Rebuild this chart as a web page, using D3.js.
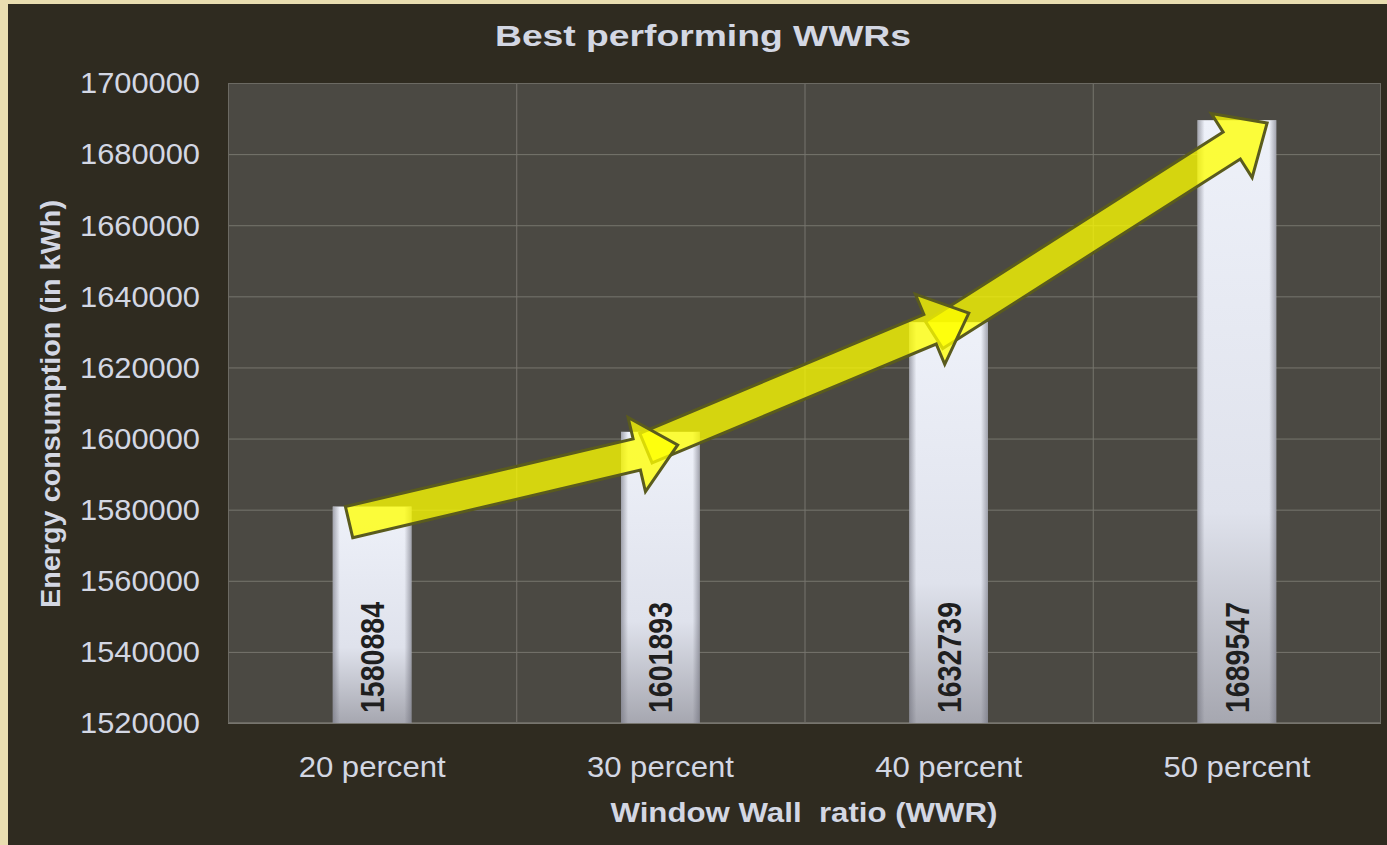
<!DOCTYPE html>
<html>
<head>
<meta charset="utf-8">
<script src="https://cdn.jsdelivr.net/npm/d3@7"></script>
<style>
  body { margin: 0; background: #e9ddb0; }
  svg { display: block; }
</style>
</head>
<body>
<div id="chart"></div>
<script>

var categories = ["20 percent", "30 percent", "40 percent", "50 percent"];
var consumption = [1580884, 1601893, 1632739, 1689547];
var yTicks = [1520000, 1540000, 1560000, 1580000, 1600000, 1620000, 1640000, 1660000, 1680000, 1700000];

// trend arrows: position in category units, value in kWh
var arrowFromPos = [0.42, 1.45, 2.45];
var arrowFromVal = [1576500, 1597300, 1629100];
var arrowToPos = [1.56, 2.57, 3.605];
var arrowToVal = [1598200, 1635300, 1688750];

var svgWidth = 1387,
    svgHeight = 845;

var margin = {top: 83, right: 6, bottom: 122, left: 228};
var plotW = svgWidth - margin.left - margin.right,
    plotH = svgHeight - margin.top - margin.bottom;

var textColor = "#d3d7e3";

var svg = d3.select("#chart").append("svg")
  .attr("width", svgWidth)
  .attr("height", svgHeight)
  .style("font-family", "'Liberation Sans', Arial, sans-serif");

var defs = svg.append("defs");

var barGrad = defs.append("linearGradient")
  .attr("id", "barGrad")
  .attr("x1", 0).attr("y1", 0).attr("x2", 0).attr("y2", 1);
barGrad.append("stop").attr("offset", "0%").attr("stop-color", "#eef1f9");
barGrad.append("stop").attr("offset", "65%").attr("stop-color", "#dfe2ec");
barGrad.append("stop").attr("offset", "100%").attr("stop-color", "#a6a7b0");

var edgeGrad = defs.append("linearGradient")
  .attr("id", "edgeGrad")
  .attr("x1", 0).attr("y1", 0).attr("x2", 1).attr("y2", 0);
edgeGrad.append("stop").attr("offset", "0%").attr("stop-color", "#70717c").attr("stop-opacity", 0.6);
edgeGrad.append("stop").attr("offset", "9%").attr("stop-color", "#70717c").attr("stop-opacity", 0);
edgeGrad.append("stop").attr("offset", "91%").attr("stop-color", "#70717c").attr("stop-opacity", 0);
edgeGrad.append("stop").attr("offset", "100%").attr("stop-color", "#70717c").attr("stop-opacity", 0.6);

// parchment edge + dark slide panel
svg.append("rect")
  .attr("width", svgWidth).attr("height", svgHeight)
  .attr("fill", "#e9ddb0");
svg.append("rect")
  .attr("x", 8).attr("y", 4)
  .attr("width", svgWidth - 8).attr("height", svgHeight - 4)
  .attr("fill", "#2f2b20");

// scales
var x = d3.scaleBand().domain(categories).range([0, plotW]).padding(0);
var xPos = d3.scaleLinear().domain([0, categories.length]).range([0, plotW]);
var y = d3.scaleLinear().domain([1520000, 1700000]).range([plotH, 0]);

var g = svg.append("g")
  .attr("transform", "translate(" + margin.left + "," + margin.top + ")");

// plot area
g.append("rect")
  .attr("width", plotW).attr("height", plotH)
  .attr("fill", "#4b4943");

// grid
g.append("g").selectAll("line")
  .data(yTicks)
  .enter().append("line")
  .attr("x1", 0).attr("x2", plotW)
  .attr("y1", function(d) { return y(d) + 0.5; })
  .attr("y2", function(d) { return y(d) + 0.5; })
  .attr("stroke", "#77756e")
  .attr("stroke-width", 1);

g.append("g").selectAll("line")
  .data(categories.slice(0, categories.length - 1))
  .enter().append("line")
  .attr("x1", function(d) { return x(d) + x.bandwidth() + 0.5; })
  .attr("x2", function(d) { return x(d) + x.bandwidth() + 0.5; })
  .attr("y1", 0).attr("y2", plotH)
  .attr("stroke", "#77756e")
  .attr("stroke-width", 1);

g.append("rect")
  .attr("x", 0.5).attr("y", 0.5)
  .attr("width", plotW - 1).attr("height", plotH - 1)
  .attr("fill", "none")
  .attr("stroke", "#6c6a63");

// axes
var yAxis = d3.axisLeft(y).tickValues(yTicks).tickFormat(d3.format("d")).tickSize(0).tickPadding(28);
var yAxisG = g.append("g").call(yAxis);
yAxisG.select(".domain").remove();
yAxisG.selectAll("text")
  .attr("fill", textColor)
  .attr("dy", "0.34em")
  .style("font-size", "29px")
  .attr("textLength", 120)
  .attr("lengthAdjust", "spacingAndGlyphs");

var xAxis = d3.axisBottom(x).tickSize(0).tickPadding(33);
var xAxisG = g.append("g")
  .attr("transform", "translate(0," + plotH + ")")
  .call(xAxis);
xAxisG.select(".domain").remove();
xAxisG.selectAll("text")
  .attr("fill", textColor)
  .style("font-size", "29px")
  .attr("textLength", 147)
  .attr("lengthAdjust", "spacingAndGlyphs");

// bars
var barW = x.bandwidth() * 0.273;

function barX(d, i) { return x(categories[i]) + (x.bandwidth() - barW) / 2; }
function barCx(i) { return x(categories[i]) + x.bandwidth() / 2; }

var bars = g.append("g").selectAll("g")
  .data(consumption)
  .enter().append("g");

bars.append("rect")
  .attr("x", barX)
  .attr("y", function(d) { return y(d); })
  .attr("width", barW)
  .attr("height", function(d) { return plotH - y(d); })
  .attr("fill", "url(#barGrad)");

bars.append("rect")
  .attr("x", barX)
  .attr("y", function(d) { return y(d); })
  .attr("width", barW)
  .attr("height", function(d) { return plotH - y(d); })
  .attr("fill", "url(#edgeGrad)");

bars.append("text")
  .attr("transform", function(d, i) {
    return "translate(" + (barCx(i) + 12) + "," + (plotH - 10) + ") rotate(-90) scale(1,1.12)";
  })
  .attr("text-anchor", "start")
  .attr("fill", "#1f1f1f")
  .style("font-size", "29px")
  .style("font-weight", "bold")
  .attr("textLength", 111)
  .attr("lengthAdjust", "spacingAndGlyphs")
  .text(function(d) { return d; });

// block arrows
var shaftHalf = 16, headHalf = 38, headLen = 42;

function arrowPath(x0, y0, x1, y1)
{
  var dx = x1 - x0, dy = y1 - y0;
  var len = Math.sqrt(dx * dx + dy * dy);
  var ux = dx / len, uy = dy / len;
  var nx = -uy, ny = ux;
  var bx = x1 - ux * headLen, by = y1 - uy * headLen;
  var pts = [
    [x0 + nx * shaftHalf, y0 + ny * shaftHalf],
    [bx + nx * shaftHalf, by + ny * shaftHalf],
    [bx + nx * headHalf, by + ny * headHalf],
    [x1, y1],
    [bx - nx * headHalf, by - ny * headHalf],
    [bx - nx * shaftHalf, by - ny * shaftHalf],
    [x0 - nx * shaftHalf, y0 - ny * shaftHalf]
  ];
  return d3.line()(pts) + "Z";
}

var arrowData = arrowFromPos.map(function(p, i) {
  return {
    x0: xPos(p), y0: y(arrowFromVal[i]),
    x1: xPos(arrowToPos[i]), y1: y(arrowToVal[i])
  };
}).reverse(); // first arrow ends up on top

g.append("g").selectAll("path")
  .data(arrowData)
  .enter().append("path")
  .attr("d", function(d) { return arrowPath(d.x0, d.y0, d.x1, d.y1); })
  .attr("fill", "#ffff00")
  .attr("fill-opacity", 0.77)
  .attr("stroke", "#5a5b1e")
  .attr("stroke-width", 3)
  .attr("stroke-linejoin", "miter");

// titles
svg.append("text")
  .attr("x", 703).attr("y", 46)
  .attr("text-anchor", "middle")
  .attr("fill", textColor)
  .style("font-size", "30px")
  .style("font-weight", "bold")
  .attr("textLength", 416)
  .attr("lengthAdjust", "spacingAndGlyphs")
  .text("Best performing WWRs");

svg.append("text")
  .attr("x", 804).attr("y", 822)
  .attr("text-anchor", "middle")
  .attr("fill", textColor)
  .style("font-size", "28px")
  .style("font-weight", "bold")
  .style("white-space", "pre")
  .attr("textLength", 387)
  .attr("lengthAdjust", "spacingAndGlyphs")
  .text("Window Wall  ratio (WWR)");

svg.append("text")
  .attr("transform", "translate(60,404) rotate(-90)")
  .attr("text-anchor", "middle")
  .attr("fill", textColor)
  .style("font-size", "28px")
  .style("font-weight", "bold")
  .attr("textLength", 408)
  .attr("lengthAdjust", "spacingAndGlyphs")
  .text("Energy consumption (in kWh)");

</script>
</body>
</html>
